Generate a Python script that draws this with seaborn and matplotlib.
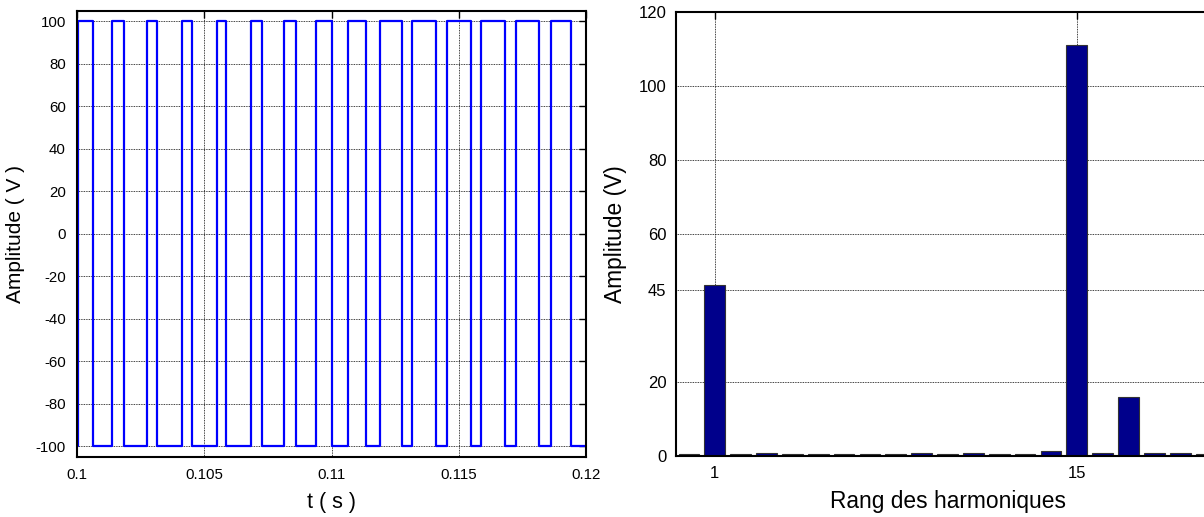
import numpy as np
import pandas as pd
import matplotlib
matplotlib.use("Agg")
import matplotlib.pyplot as plt
import seaborn as sns

# ---------------- data ----------------
# PWM switching instants (s)
rise_times = [0.10003, 0.10137, 0.10276, 0.10411, 0.10550, 0.10682, 0.10812, 0.10940,
              0.11064, 0.11190, 0.11316, 0.11452, 0.11588, 0.11726, 0.11862, 0.12003]
fall_times = [0.10063, 0.10186, 0.10315, 0.10450, 0.10585, 0.10726, 0.10862, 0.11003,
              0.11134, 0.11277, 0.11412, 0.11550, 0.11682, 0.11814, 0.11941]
v_high = 100
v_low = -100
t_start = 0.1
t_end = 0.1202

left_xticks = [0.1, 0.105, 0.11, 0.115, 0.12]
left_xticklabels = ["0.1", "0.105", "0.11", "0.115", "0.12"]
left_yticks = [-100, -80, -60, -40, -20, 0, 20, 40, 60, 80, 100]

harm_order = list(range(0, 21))
harm_amp = [0.5, 46.3, 0.5, 0.9, 0.5, 0.5, 0.5, 0.5, 0.5, 0.9, 0.5,
            0.9, 0.5, 0.5, 1.3, 111.0, 0.9, 16.0, 0.9, 0.9, 0.5]
right_xticks = [1, 15]
right_yticks = [0, 20, 45, 60, 80, 100, 120]

# ---------------- build step waveform ----------------
events = sorted([(t, v_high) for t in rise_times] + [(t, v_low) for t in fall_times])
tt = [t_start]
vv = [v_low]
level = v_low
for t, newlevel in events:
    tt += [t, t]
    vv += [level, newlevel]
    level = newlevel
tt.append(t_end)
vv.append(level)
wave = pd.DataFrame({"t": tt, "v": vv, "pt": np.arange(len(tt))})

harm = pd.DataFrame({"h": harm_order, "a": harm_amp})

# ---------------- style ----------------
sns.set_style("white")
plt.rcParams["font.family"] = ["Liberation Sans", "DejaVu Sans"]
plt.rcParams["axes.unicode_minus"] = False
plt.rcParams["text.color"] = "black"
plt.rcParams["axes.labelcolor"] = "black"
plt.rcParams["xtick.color"] = "black"
plt.rcParams["ytick.color"] = "black"

W, H = 1204, 517
fig = plt.figure(figsize=(W / 100, H / 100), dpi=100)

ax1 = fig.add_axes([77 / W, (H - 457) / H, 509 / W, 446.3 / H])
ax2 = fig.add_axes([676 / W, (H - 456) / H, 543 / W, 444 / H])

grid_kw = dict(color="black", linestyle=(0, (1, 1)), linewidth=0.6)

# ---- left: waveform ----
sns.lineplot(data=wave, x="t", y="v", sort=False, estimator=None,
             color="#0000ff", linewidth=1.6, ax=ax1)
ax1.set_xlim(0.1, 0.12)
ax1.set_ylim(-105, 105)
ax1.set_xticks(left_xticks)
ax1.set_xticklabels(left_xticklabels)
ax1.set_yticks(left_yticks)
ax1.grid(True, **grid_kw)
ax1.set_axisbelow(True)
ax1.tick_params(direction="in", length=5, width=1, top=True, right=True,
                labelsize=10.8, colors="black", pad=8)
ax1.set_xlabel("t ( s )", fontsize=15.5, labelpad=7)
ax1.set_ylabel("Amplitude ( V )", fontsize=15, labelpad=8)

# ---- right: harmonic spectrum ----
sns.barplot(data=harm, x="h", y="a", order=harm_order, color="#00008b",
            saturation=1, width=0.8, edgecolor="#333333", linewidth=0.8, ax=ax2)
ax2.set_xlim(-0.5, 20.5)
ax2.set_ylim(0, 120)
ax2.set_xticks(right_xticks)
ax2.set_xticklabels([str(x) for x in right_xticks])
ax2.set_yticks(right_yticks)
ax2.grid(True, **grid_kw)
ax2.set_axisbelow(True)
ax2.tick_params(direction="in", length=5, width=1, top=True, right=True,
                labelsize=12, colors="black", pad=7)
ax2.set_xlabel("Rang des harmoniques", fontsize=16.4, labelpad=7)
ax2.set_ylabel("Amplitude (V)", fontsize=16.4, labelpad=8)

for ax in (ax1, ax2):
    for s in ax.spines.values():
        s.set_visible(True)
        s.set_color("black")
        s.set_linewidth(1.5)

fig.savefig("out.png", dpi=100)
